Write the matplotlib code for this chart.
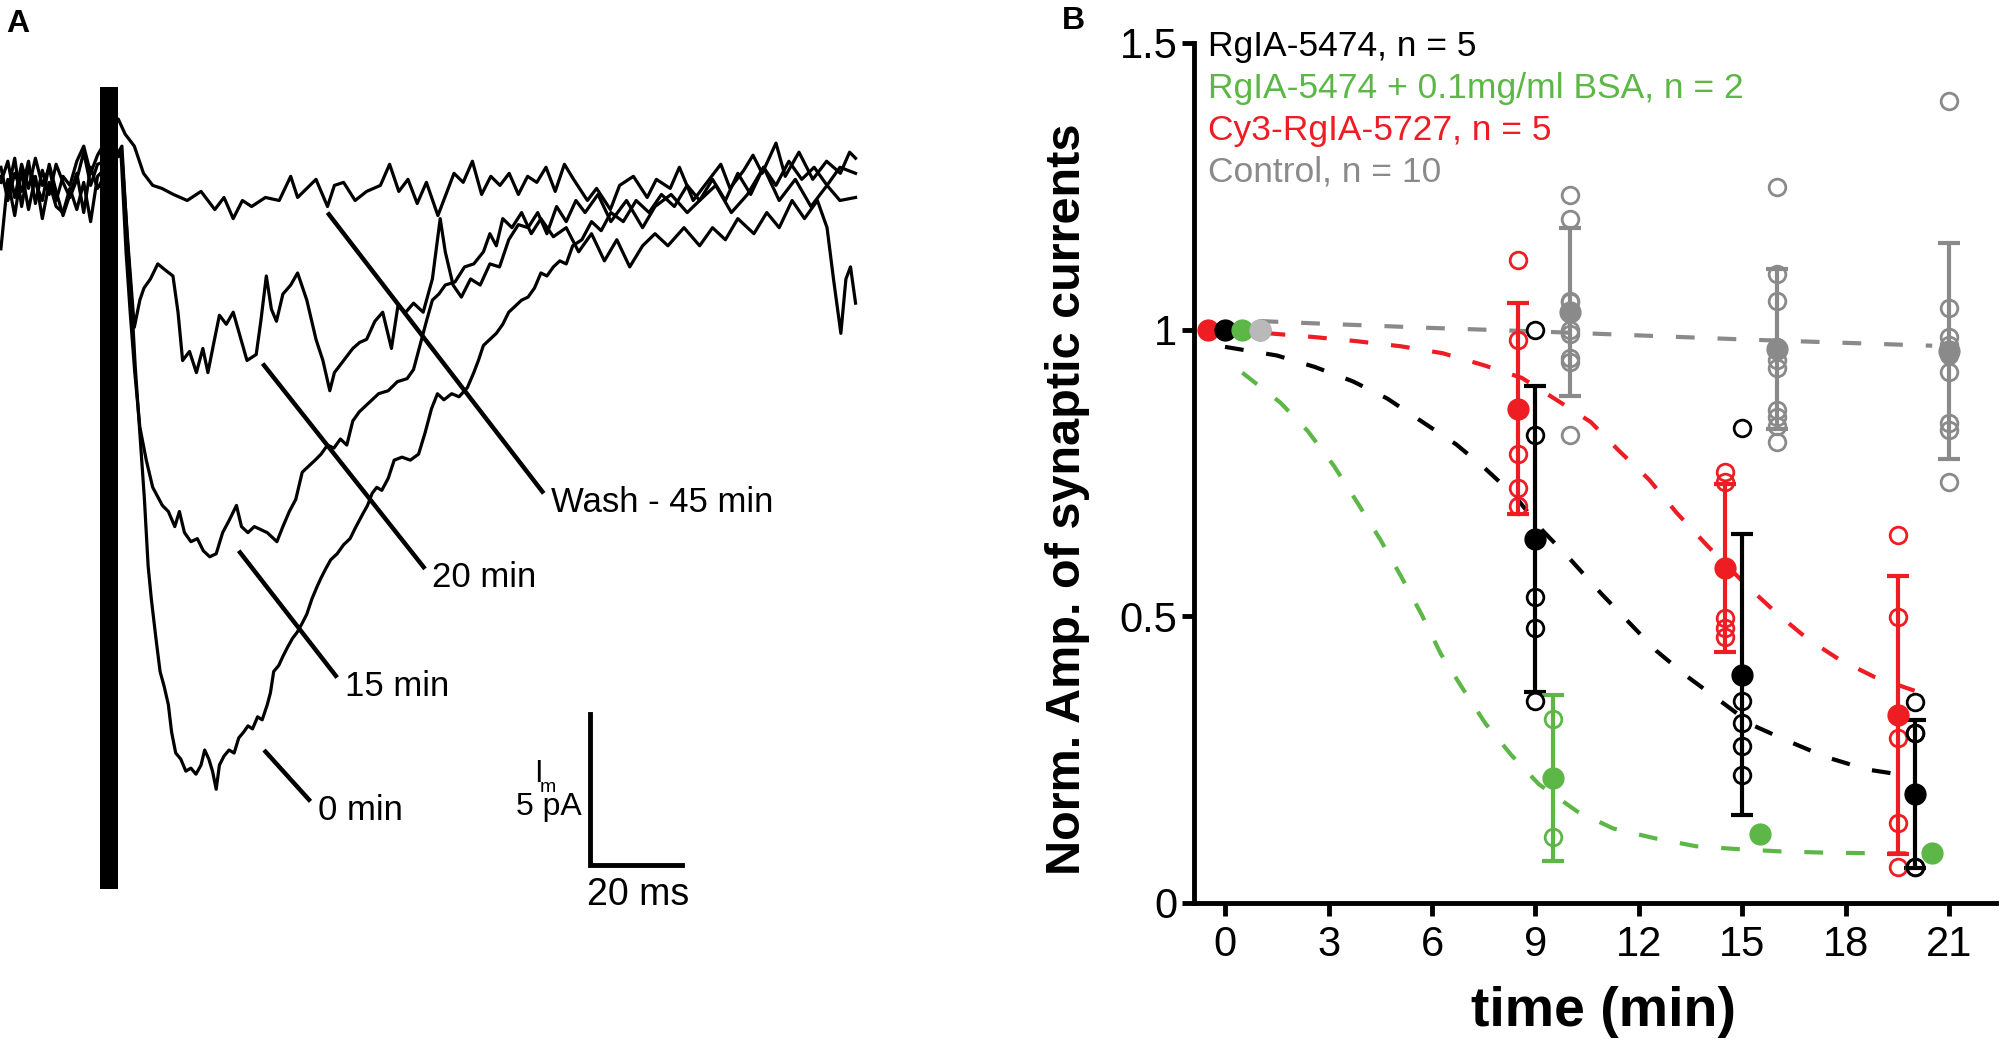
import matplotlib.pyplot as plt
import numpy as np

plt.rcParams['font.family'] = ['Liberation Sans', 'DejaVu Sans']

########################################################################################
# Panel A data: whole-cell current traces (time in ms, current in pA)

pre_wash = [(-21.5, 0.3), (-20, 1.0), (-18.5, -0.2), (-17, 0.9), (-15.5, 0.1), (-14, 1.1),
            (-12.5, 0.2), (-11, 0.8), (-9.5, -0.3), (-8, 0.5), (-6.5, 0.2), (-5, 1.0),
            (-3.5, 1.5), (-2, 0.6), (-0.5, 1.2)]
pre_20 = [(-21.5, 0.8), (-20, -0.3), (-18.5, 0.6), (-17, 0.0), (-15.5, 1.0), (-14, -0.4),
          (-12.5, 0.7), (-11, -0.1), (-9.5, 0.9), (-8, 0.3), (-6.5, -0.2), (-5, 0.4),
          (-3.5, 1.3), (-2, 0.2), (-0.5, 0.9)]
pre_15 = [(-21.5, -1.9), (-20, 0.4), (-18.5, -0.8), (-17, 0.7), (-15.5, -0.6), (-14, 0.5),
          (-12.5, -0.9), (-11, 0.3), (-9.5, -0.5), (-8, -0.7), (-6.5, 0.1), (-5, -0.6),
          (-3.5, 0.3), (-2, -1.0), (-0.5, 0.5)]
pre_0 = [(-21.5, 0.5), (-20, 0.0), (-18.5, 1.1), (-17, -0.5), (-15.5, 0.8), (-14, 0.3),
         (-12.5, -0.3), (-11, 0.9), (-9.5, 0.0), (-8, -0.8), (-6.5, -0.1), (-5, 0.6),
         (-3.5, -0.7), (-2, 0.8), (-0.5, 0.1)]

post_wash = [(4.0, 2.4), (5.5, 1.9), (7.5, 1.5), (9.5, 0.6), (11.5, 0.2), (13.5, 0.1),
             (16, -0.1), (19, -0.3), (22, 0.0), (25, -0.6), (27, -0.2), (29, -0.9),
             (31, -0.3), (33, -0.5), (36, -0.2), (39, -0.3), (41.5, 0.5), (43, -0.2),
             (45, 0.1), (47, 0.4), (49.5, -0.5), (51, 0.2), (53, 0.3), (55.5, -0.3),
             (58, 0.0), (61, 0.2), (63, 0.9), (65, 0.0), (67, 0.4), (69, -0.4), (71, 0.3),
             (73.5, -0.8), (75, -0.2), (77, 0.6), (79, 0.3), (81, 1.0), (83, -0.1),
             (85, 0.5), (87, 0.2), (89, 0.6), (91, -0.1), (93, 0.5), (95, 0.3), (97, 0.8),
             (99, 0.0), (101, 0.9), (103, 0.4), (106, -0.3), (108, 0.1), (111, -0.6),
             (113, 0.2), (116, 0.5), (119, -0.2), (121, 0.4), (124, 0.1), (126, 0.8),
             (129, -0.3), (132, 0.3), (135, 0.9), (137, 0.1), (140, 0.7), (142, 1.2),
             (144, 0.6), (147, 1.6), (149, 0.5), (152, 1.3), (155, 0.4), (158, 1.0),
             (161, 0.6), (163, 1.3), (164.3, 1.1)]

post_20 = [(4.8, 1.2), (6.0, -1.5), (7.5, -4.5), (8.7, -3.6), (9.6, -3.2), (11.0, -2.9),
           (12.6, -2.4), (14.2, -2.6), (15.9, -2.8), (17.0, -4.0), (18.0, -5.6), (19.5, -5.3),
           (21.0, -6.0), (22.4, -5.2), (23.5, -6.0), (24.8, -5.0), (26.0, -4.1), (27.5, -4.4),
           (29.0, -4.0), (30.5, -4.8), (32.0, -5.6), (34.0, -5.4), (35.0, -4.3), (36.2, -2.8),
           (37.3, -3.9), (38.4, -4.3), (39.8, -3.4), (41.5, -3.1), (43.0, -2.7), (45.0, -3.6),
           (47.0, -4.9), (48.5, -5.6), (50.0, -6.6), (51.0, -6.0), (52.0, -5.8), (53.5, -5.5),
           (55.0, -5.2), (56.5, -5.0), (58.0, -4.9), (59.8, -4.3), (61.5, -4.0), (63.4, -5.2),
           (64.8, -3.8), (66.5, -4.0), (68.2, -3.7), (70.3, -4.0), (72.3, -2.9), (74.0, -0.9),
           (75.1, -2.0), (76.8, -3.1), (78.6, -3.5), (80.6, -2.9), (82.7, -3.1), (84.8, -2.4),
           (86.9, -2.5), (88.9, -1.6), (91.0, -1.1), (93.1, -1.2), (95.2, -0.7), (97.2, -1.4),
           (99.3, -0.5), (101.4, -1.0), (103.5, -0.3), (105.5, -0.7), (108.3, -0.1),
           (111.1, -1.0), (114.5, -0.3), (118.0, -1.2), (120.7, -0.5), (124.2, -0.1),
           (127.7, -0.7), (130.4, -0.3), (133.9, 0.2), (137.3, -0.7), (140.8, -0.1),
           (144.3, 0.8), (147.7, -0.3), (151.2, 0.4), (154.6, -0.5), (158.1, 0.2),
           (160.9, -0.3), (164.3, -0.2)]

post_15 = [(4.6, 1.3), (5.7, -2.0), (6.6, -4.0), (7.6, -6.0), (8.7, -7.8), (10.1, -8.9),
           (11.5, -9.8), (13.6, -10.4), (14.9, -10.6), (16.3, -11.1), (17.3, -10.6),
           (18.4, -11.3), (19.8, -11.6), (21.2, -11.5), (22.5, -11.9), (23.9, -12.1),
           (25.3, -12.0), (26.7, -11.3), (28.1, -10.9), (29.7, -10.4), (30.8, -11.1),
           (32.2, -11.3), (33.6, -11.1), (35.0, -11.2), (36.4, -11.3), (38.5, -11.6),
           (39.8, -11.1), (41.2, -10.6), (42.6, -10.2), (44.0, -9.3), (45.4, -9.1),
           (46.8, -8.9), (48.1, -8.7), (49.5, -8.4), (50.9, -8.5), (52.3, -8.2), (53.7, -8.4),
           (55.0, -7.6), (56.4, -7.3), (57.8, -7.1), (59.2, -6.9), (60.6, -6.7), (62.7, -6.6),
           (64.7, -6.3), (66.8, -6.2), (68.2, -5.9), (69.6, -5.1), (71.0, -4.3), (72.3, -3.6),
           (73.7, -3.4), (75.1, -3.1), (77.2, -3.0), (79.3, -2.5), (81.3, -2.4), (83.4, -2.0),
           (84.8, -1.4), (86.2, -1.8), (87.6, -0.9), (89.6, -1.2), (91.7, -0.7), (93.8, -1.4),
           (95.9, -0.9), (98.6, -1.5), (101.4, -1.2), (104.1, -2.0), (106.9, -1.4),
           (109.7, -2.3), (112.4, -1.6), (115.2, -2.5), (118.0, -1.8), (120.7, -1.4),
           (123.5, -1.8), (127.0, -1.2), (130.4, -1.8), (133.2, -1.2), (136.0, -1.6),
           (138.7, -0.9), (142.2, -1.4), (145.0, -0.7), (147.7, -1.2), (150.5, -0.3),
           (153.2, -0.9), (156.0, -0.3), (158.1, -1.2), (159.5, -2.9), (161.1, -4.7),
           (162.2, -2.9), (163.2, -2.5), (164.3, -3.7)]

post_0 = [(4.8, 1.5), (5.9, -1.4), (6.9, -3.6), (7.7, -5.8), (8.7, -8.0), (9.7, -10.2),
          (10.5, -12.4), (11.2, -13.5), (12.2, -14.8), (13.1, -15.9), (14.0, -16.4),
          (14.9, -17.0), (15.6, -17.9), (16.5, -18.6), (17.6, -18.8), (18.7, -19.2),
          (19.8, -19.1), (20.9, -19.3), (22.0, -19.0), (22.8, -18.5), (23.7, -18.8),
          (24.5, -19.2), (25.3, -19.8), (26.0, -19.0), (27.0, -18.7), (28.1, -18.5),
          (29.2, -18.6), (30.2, -18.1), (31.3, -17.9), (32.2, -17.7), (33.2, -17.8),
          (34.3, -17.4), (35.3, -17.5), (36.4, -17.0), (37.1, -16.6), (37.8, -15.9),
          (38.9, -15.7), (39.8, -15.4), (40.8, -15.1), (41.9, -14.8), (42.9, -14.6),
          (44.0, -14.3), (45.0, -14.0), (46.1, -13.5), (47.2, -13.1), (48.1, -12.8),
          (49.1, -12.5), (50.2, -12.2), (51.6, -12.0), (53.0, -11.7), (54.4, -11.5),
          (55.7, -11.1), (57.1, -10.7), (58.2, -10.4), (59.2, -10.0), (60.2, -9.8),
          (61.3, -9.9), (62.7, -9.5), (64.0, -8.9), (65.7, -8.8), (67.5, -8.9), (69.3, -8.7),
          (70.7, -8.0), (72.1, -7.2), (73.4, -6.7), (74.8, -6.9), (76.5, -6.7), (78.1, -6.8),
          (79.9, -6.5), (81.3, -6.0), (82.3, -5.6), (83.4, -5.1), (84.8, -4.9), (86.2, -4.7),
          (87.6, -4.4), (88.9, -4.0), (90.3, -3.8), (91.7, -3.6), (93.1, -3.5), (94.5, -3.2),
          (95.9, -2.7), (97.2, -2.8), (98.6, -2.5), (100.0, -2.3), (101.4, -2.4),
          (102.8, -1.8), (104.8, -1.6), (106.9, -1.0), (109.0, -1.3), (111.1, -0.7),
          (113.8, -1.0), (116.6, -0.3), (119.4, -0.7), (122.1, -0.1), (124.9, -0.5),
          (127.7, 0.2), (130.4, -0.3), (133.2, 0.4), (136.0, -0.3), (138.7, 0.6),
          (141.5, -0.1), (144.3, 0.8), (147.0, 0.2), (149.8, 1.0), (152.6, 0.4),
          (155.3, 0.8), (158.1, 0.2), (160.9, 0.8), (164.3, 0.6)]

trace_pre = [pre_wash, pre_20, pre_15, pre_0]
trace_post = [post_wash, post_20, post_15, post_0]

# stimulus artefact (ms, pA)
stim_start, stim_end = 0.0, 4.0
stim_low, stim_high = -23.1, 3.46

# trace labels: pointer start, pointer end, text
trace_labels = ["Wash - 45 min", "20 min", "15 min", "0 min"]
pointer_start = [(49.5, -0.7), (35.4, -5.7), (30.2, -11.9), (35.7, -18.5)]
pointer_end = [(96.5, -10.0), (70.7, -12.5), (51.6, -16.1), (45.8, -20.2)]

# scale bar: 20 ms by 5 pA
bar_t0, bar_I0 = 106.5, -22.3
bar_ms, bar_pA = 20, 5

########################################################################################
# Panel B data: normalised amplitude vs time (min)

# RgIA-5474 (black)
blk_t = [0, 9, 15, 20]
blk_mean = [1.0, 0.635, 0.398, 0.19]
blk_sd = [0, 0.267, 0.245, 0.129]
blk_pts = {9: [1.0, 0.817, 0.533, 0.48, 0.352],
           15: [0.828, 0.352, 0.314, 0.273, 0.224],
           20: [0.35, 0.297, 0.063, 0.063, 0.297]}
blk_fit_t = [0, 1.5, 2.6, 3.7, 4.7, 5.7, 6.7, 7.5, 8.4, 9.2, 10, 10.9, 11.7, 12.5, 13.4,
             14.3, 15.3, 16.3, 17.4, 18.6, 20]
blk_fit = [0.97, 0.955, 0.935, 0.91, 0.88, 0.84, 0.80, 0.76, 0.71, 0.65, 0.60, 0.54, 0.49,
           0.44, 0.395, 0.355, 0.31, 0.283, 0.255, 0.233, 0.22]

# RgIA-5474 + 0.1mg/ml BSA (green)
grn_t = [0.5, 9.5, 15.5, 20.5]
grn_mean = [1.0, 0.218, 0.12, 0.087]
grn_sd = [0, 0.145, 0, 0]
grn_pts = {9.5: [0.321, 0.115]}
grn_fit_t = [0.5, 1.6, 2.4, 3.15, 3.85, 4.5, 5.1, 5.7, 6.25, 6.9, 7.55, 8.3, 9.1, 10.2,
             11.25, 12.45, 13.65, 14.85, 16.1, 17.3, 18.5, 20.0]
grn_fit = [0.925, 0.873, 0.823, 0.763, 0.697, 0.634, 0.57, 0.503, 0.435, 0.373, 0.313,
           0.258, 0.207, 0.16, 0.13, 0.113, 0.099, 0.094, 0.09, 0.088, 0.087, 0.087]

# Cy3-RgIA-5727 (red)
red_t = [-0.5, 8.5, 14.5, 19.5]
red_mean = [1.0, 0.862, 0.584, 0.328]
red_sd = [0, 0.184, 0.147, 0.243]
red_pts = {8.5: [1.122, 0.982, 0.783, 0.724, 0.693],
           14.5: [0.752, 0.734, 0.497, 0.48, 0.464],
           19.5: [0.642, 0.499, 0.288, 0.14, 0.063]}
red_fit_t = [0, 1.4, 2.6, 3.8, 5.1, 6.3, 7.5, 8.6, 9.7, 10.6, 11.4, 12.3, 13.1, 14.0,
             15.1, 16.0, 16.9, 17.8, 18.8, 20.0]
red_fit = [1.0, 0.993, 0.987, 0.98, 0.971, 0.959, 0.938, 0.916, 0.874, 0.839, 0.79, 0.738,
           0.68, 0.622, 0.555, 0.505, 0.46, 0.425, 0.395, 0.37]

# Control (grey)
gry_t = [1.0, 10, 16, 21]
gry_mean = [1.0, 1.031, 0.966, 0.963]
gry_sd = [0, 0.146, 0.14, 0.188]
gry_pts = {10: [1.235, 1.193, 1.048, 1.03, 0.992, 1.0, 0.944, 0.95, 1.05, 0.816],
           16: [1.248, 1.097, 1.05, 0.97, 0.947, 0.933, 0.86, 0.848, 0.832, 0.804],
           21: [1.399, 1.038, 0.988, 0.973, 0.96, 0.955, 0.927, 0.837, 0.825, 0.734]}
gry_fit_t = [1.0, 3, 6, 9, 12, 15, 18, 20.5]
gry_fit = [1.015, 1.01, 1.003, 0.997, 0.99, 0.983, 0.977, 0.972]

legend_text = ["RgIA-5474, n = 5", "RgIA-5474 + 0.1mg/ml BSA, n = 2",
               "Cy3-RgIA-5727, n = 5", "Control, n = 10"]

BLACK, GREEN, RED, GREY = "#000000", "#5cb747", "#ee1d23", "#8a8a8a"

fig = plt.figure(figsize=(20.01, 10.42), dpi=100)

########################################################################################
# Panel A

ax_a = fig.add_axes([0, 0, 1000 / 2001, 1])
ax_a.set_xlim(-21.7, 195.7)
ax_a.set_ylim(-28.17, 6.34)
ax_a.axis("off")

for pre, post in zip(trace_pre, trace_post):
    t, cur = np.array(pre + post).T
    ax_a.plot(t, cur, color="k", lw=2.3, solid_joinstyle="round")

ax_a.bar((stim_start + stim_end) / 2, stim_high - stim_low, width=stim_end - stim_start,
         bottom=stim_low, color="k", zorder=3)

for lab, p0, p1 in zip(trace_labels, pointer_start, pointer_end):
    ax_a.plot([p0[0], p1[0]], [p0[1], p1[1]], color="k", lw=3.2, solid_capstyle="butt")
    ax_a.text(p1[0] + 1.6, p1[1] - 0.3, lab, fontsize=25, ha="left", va="center")

ax_a.plot([bar_t0, bar_t0, bar_t0 + bar_ms], [bar_I0 + bar_pA, bar_I0, bar_I0],
          color="k", lw=3.5, solid_joinstyle="miter")
ax_a.text(bar_t0 + bar_ms / 2 + 0.5, bar_I0 - 0.4, "20 ms", fontsize=27, ha="center", va="top")
ax_a.text(bar_t0 - 1.8, bar_I0 + 1.9, "5 pA", fontsize=23, ha="right", va="center")
ax_a.text(bar_t0 - 11.2, bar_I0 + 3.0, "I", fontsize=22, ha="center", va="center")
ax_a.text(bar_t0 - 9.2, bar_I0 + 2.55, "m", fontsize=14, ha="center", va="center")

fig.text(6 / 2001, 1 - 24 / 1042, "A", fontsize=23, fontweight="bold", va="center")

########################################################################################
# Panel B

ax_b = fig.add_axes([1194 / 2001, 1 - 903 / 1042, (1996 - 1194) / 2001, (903 - 43) / 1042])
ax_b.set_xlim(-0.9, 22.35)
ax_b.set_ylim(0, 1.5)

series = [
    (red_t, red_mean, red_sd, red_pts, red_fit_t, red_fit, RED),
    (blk_t, blk_mean, blk_sd, blk_pts, blk_fit_t, blk_fit, BLACK),
    (grn_t, grn_mean, grn_sd, grn_pts, grn_fit_t, grn_fit, GREEN),
    (gry_t, gry_mean, gry_sd, gry_pts, gry_fit_t, gry_fit, GREY),
]

for t, mean, sd, pts, fit_t, fit, col in series:
    ax_b.plot(fit_t, fit, color=col, lw=3, dashes=(4.5, 5.5), zorder=2)
    t, mean, sd = np.array(t), np.array(mean), np.array(sd)
    has_bar = sd > 0
    ax_b.errorbar(t[has_bar], mean[has_bar], yerr=sd[has_bar], fmt="none", ecolor=col,
                  elinewidth=3, capsize=8, capthick=3, zorder=3)
    for x, vals in pts.items():
        ax_b.plot([x] * len(vals), vals, "o", ms=12, mfc="none", mec=col, mew=2, zorder=4)
    ax_b.plot(t, mean, "o", ms=15, color=col, zorder=5, clip_on=False)

# the control start point is drawn lighter in the original
ax_b.plot(gry_t[0], gry_mean[0], "o", ms=15, color="#b9b9b9", zorder=5)

for i, (txt, col) in enumerate(zip(legend_text, [BLACK, GREEN, RED, GREY])):
    ax_b.text(-0.5, 1.494 - i * 0.073, txt, color=col, fontsize=25.5, ha="left", va="center")

ax_b.spines["top"].set_visible(False)
ax_b.spines["right"].set_visible(False)
ax_b.spines["left"].set_linewidth(3.5)
ax_b.spines["bottom"].set_linewidth(3.5)
ax_b.set_xticks(range(0, 22, 3))
ax_b.set_yticks([0, 0.5, 1, 1.5])
ax_b.set_yticklabels(["0", "0.5", "1", "1.5"])
ax_b.tick_params(axis="both", direction="out", length=9, width=3.5, labelsize=30)
ax_b.tick_params(axis="y", pad=3)
ax_b.tick_params(axis="x", pad=7)

ax_b.set_ylabel("Norm. Amp. of synaptic currents", fontsize=35, fontweight="bold")
ax_b.yaxis.set_label_coords(-0.13, 0.47)
ax_b.set_xlabel("time (min)", fontsize=40, fontweight="bold")
ax_b.xaxis.set_label_coords(0.51, -0.097)

fig.text(1062 / 2001, 1 - 21 / 1042, "B", fontsize=23, fontweight="bold", va="center")

fig.savefig("out.png", dpi=100)
